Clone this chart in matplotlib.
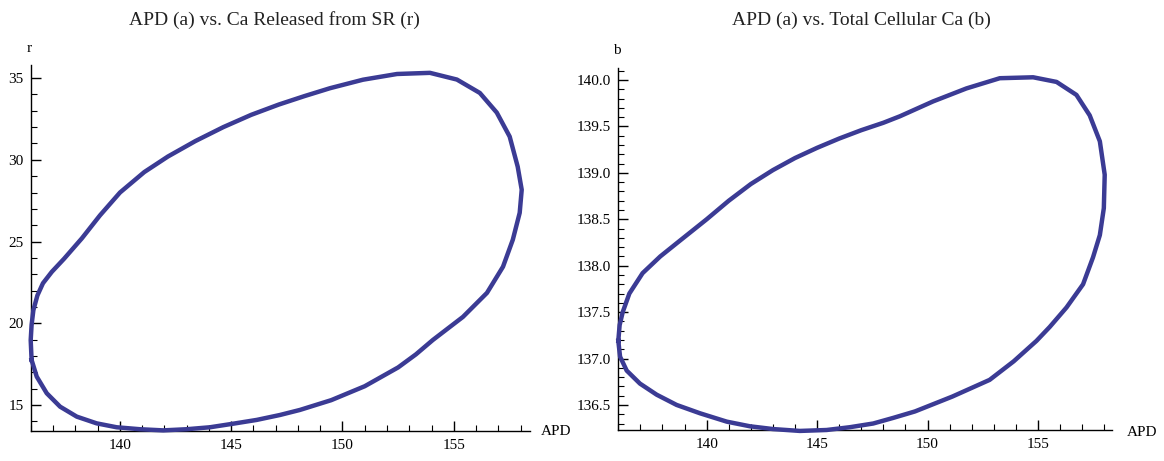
import numpy as np
import matplotlib.pyplot as plt
from matplotlib.ticker import MultipleLocator, FormatStrFormatter

plt.rcParams['font.family'] = ['Liberation Serif', 'DejaVu Serif']

# APD (a) vs Ca released from SR (r), going round the loop
apd_r = [136.04, 136.0, 136.04, 136.12, 136.3, 136.55, 136.95, 137.5, 138.3, 139.11,
         140.01, 141.1, 142.16, 143.4, 144.65, 145.9, 147.14, 148.3, 149.44, 150.92,
         152.45, 153.93, 155.14, 156.17, 156.93, 157.51, 157.87, 158.05, 157.96, 157.65,
         157.21, 156.49, 155.41, 154.06, 153.3, 152.5, 151.0, 149.5, 148.09, 147.19,
         146.15, 145.1, 144.05, 143.0, 141.95, 140.91, 139.86, 138.96, 138.07, 137.32,
         136.72, 136.27, 136.04]
r_vals = [17.76, 18.97, 19.9, 20.8, 21.7, 22.45, 23.15, 23.95, 25.2, 26.6,
          28.0, 29.25, 30.2, 31.15, 32.0, 32.75, 33.38, 33.9, 34.38, 34.9,
          35.25, 35.32, 34.91, 34.09, 32.89, 31.42, 29.58, 28.17, 26.76, 25.11,
          23.46, 21.86, 20.39, 18.98, 18.1, 17.3, 16.15, 15.3, 14.7, 14.39,
          14.09, 13.86, 13.64, 13.52, 13.45, 13.52, 13.64, 13.88, 14.29, 14.9,
          15.72, 16.74, 17.76]

# APD (a) vs total cellular Ca (b), right panel
apd_b = [136.0, 136.06, 136.2, 136.5, 137.1, 137.9, 138.79, 140.0, 141.0, 142.0,
         143.0, 144.0, 145.0, 146.0, 147.0, 148.0, 148.75, 150.25, 151.76, 153.27,
         154.78, 155.84, 156.74, 157.34, 157.8, 158.02, 157.98, 157.8, 157.49, 157.04,
         156.29, 155.53, 154.93, 153.9, 152.81, 151.12, 149.43, 148.44, 147.54, 146.48,
         145.43, 144.22, 143.01, 141.96, 140.91, 139.7, 138.64, 137.74, 136.98, 136.38,
         136.08, 136.0]
b_vals = [137.19, 137.36, 137.5, 137.7, 137.92, 138.1, 138.27, 138.5, 138.7, 138.88,
          139.03, 139.16, 139.27, 139.37, 139.46, 139.54, 139.61, 139.77, 139.91, 140.02,
          140.03, 139.98, 139.84, 139.62, 139.34, 138.98, 138.62, 138.33, 138.09, 137.8,
          137.55, 137.34, 137.19, 136.97, 136.77, 136.59, 136.43, 136.36, 136.3, 136.26,
          136.23, 136.22, 136.24, 136.27, 136.32, 136.41, 136.5, 136.61, 136.73, 136.87,
          137.02, 137.19]

line_col = '#3b3b94'
W, H = 1164, 461

fig = plt.figure(figsize=(W / 100, H / 100), dpi=100)

def px_axes(x0, x1, y_top, y_bot):
    return fig.add_axes([x0 / W, 1 - y_bot / H, (x1 - x0) / W, (y_bot - y_top) / H])

def style(ax):
    for s in ['top', 'right']:
        ax.spines[s].set_visible(False)
    for s in ['left', 'bottom']:
        ax.spines[s].set_linewidth(1.0)
    ax.tick_params(which='both', direction='in', labelsize=11, colors='black')
    ax.tick_params(which='major', length=7, width=1)
    ax.tick_params(which='minor', length=4, width=0.8)
    ax.tick_params(axis='x', pad=6)
    ax.tick_params(axis='y', pad=5)
    ax.xaxis.set_major_locator(MultipleLocator(5))
    ax.xaxis.set_minor_locator(MultipleLocator(1))
    ax.patch.set_alpha(0)

ax1 = px_axes(30.7, 529.5, 65, 430.7)
ax1.plot(apd_r, r_vals, color=line_col, lw=3.2, clip_on=False, zorder=3,
         solid_joinstyle='round')
ax1.set_xlim(136.0, 158.4)
ax1.set_ylim(13.43, 35.8)
style(ax1)
ax1.yaxis.set_major_locator(MultipleLocator(5))
ax1.yaxis.set_minor_locator(MultipleLocator(1))

ax2 = px_axes(618.3, 1112, 68, 430)
ax2.plot(apd_b, b_vals, color=line_col, lw=3.2, clip_on=False, zorder=3,
         solid_joinstyle='round')
ax2.set_xlim(136.0, 158.35)
ax2.set_ylim(136.23, 140.13)
style(ax2)
ax2.yaxis.set_major_locator(MultipleLocator(0.5))
ax2.yaxis.set_minor_locator(MultipleLocator(0.1))
ax2.yaxis.set_major_formatter(FormatStrFormatter('%.1f'))

fig.text(274 / W, 1 - 20 / H, 'APD (a) vs. Ca Released from SR (r)', ha='center', va='center',
         fontsize=14, color='#222222')
fig.text(861 / W, 1 - 20 / H, 'APD (a) vs. Total Cellular Ca (b)', ha='center', va='center',
         fontsize=14, color='#222222')

fig.text(29 / W, 1 - 48 / H, 'r', ha='center', va='center', fontsize=11)
fig.text(617 / W, 1 - 50 / H, 'b', ha='center', va='center', fontsize=11)
fig.text(541 / W, 1 - 431 / H, 'APD', ha='left', va='center', fontsize=11)
fig.text(1127 / W, 1 - 432 / H, 'APD', ha='left', va='center', fontsize=11)

fig.savefig('out.png', dpi=100, facecolor='white')
